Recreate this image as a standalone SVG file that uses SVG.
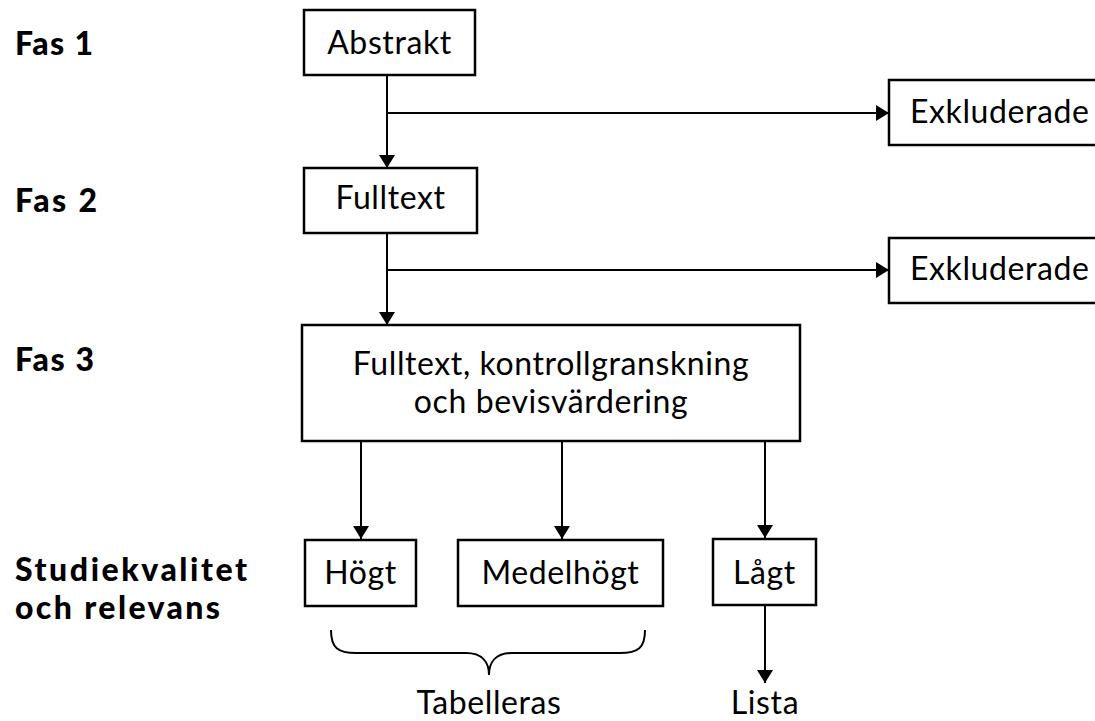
<svg xmlns="http://www.w3.org/2000/svg" width="1095" height="721" viewBox="0 0 1095 721">
<defs>
<marker id="ah" markerWidth="16" markerHeight="16" viewBox="0 0 16 16" refX="13" refY="8" orient="auto" markerUnits="userSpaceOnUse">
<path d="M0,0 L13,8 L0,16 Z" fill="#000"/>
</marker>
</defs>
<style>
.box{fill:#fff;stroke:#000;stroke-width:2.5}
.t{font-family:Lato,"Open Sans","Liberation Sans",sans-serif;font-size:32px;letter-spacing:0.6px;fill:#000;text-anchor:middle}
.lbl{font-family:Lato,"Open Sans","Liberation Sans",sans-serif;font-size:32px;font-weight:900;fill:#000}
.c{fill:none;stroke:#000;stroke-width:2}
</style>
<rect width="1095" height="721" fill="#fff"/>
<g id="labels">
<text class="lbl" x="15" y="55" textLength="78" lengthAdjust="spacing">Fas 1</text>
<text class="lbl" x="15" y="212" textLength="82" lengthAdjust="spacing">Fas 2</text>
<text class="lbl" x="15" y="371" textLength="79" lengthAdjust="spacing">Fas 3</text>
<text class="lbl" x="15" y="581" textLength="232" lengthAdjust="spacing">Studiekvalitet</text>
<text class="lbl" x="15" y="619" textLength="205" lengthAdjust="spacing">och relevans</text>
</g>
<g id="connectors">
<line class="c" x1="387" y1="75" x2="387" y2="168" marker-end="url(#ah)"/>
<line class="c" x1="387" y1="113" x2="889" y2="113" marker-end="url(#ah)"/>
<line class="c" x1="387" y1="233" x2="387" y2="325" marker-end="url(#ah)"/>
<line class="c" x1="387" y1="270" x2="889" y2="270" marker-end="url(#ah)"/>
<line class="c" x1="361" y1="441" x2="361" y2="539" marker-end="url(#ah)"/>
<line class="c" x1="562" y1="441" x2="562" y2="539" marker-end="url(#ah)"/>
<line class="c" x1="765" y1="441" x2="765" y2="538" marker-end="url(#ah)"/>
<line class="c" x1="765" y1="605" x2="765" y2="683" marker-end="url(#ah)"/>
<path class="c" d="M331,630 C331,648 338,653 356,653 L466,653 C482,653 489,662 489,675 C489,662 496,653 512,653 L620,653 C638,653 645,648 645,630"/>
</g>
<g id="abstrakt">
<rect class="box" x="304" y="10" width="171" height="65"/>
<text class="t" x="389.5" y="54">Abstrakt</text>
</g>
<g id="exkl1">
<rect class="box" x="889" y="80" width="215" height="65"/>
<text class="t" x="910" y="123" style="text-anchor:start">Exkluderade</text>
</g>
<g id="fulltext">
<rect class="box" x="304" y="168" width="173" height="65"/>
<text class="t" x="390.5" y="209">Fulltext</text>
</g>
<g id="exkl2">
<rect class="box" x="889" y="238" width="215" height="65"/>
<text class="t" x="910" y="280" style="text-anchor:start">Exkluderade</text>
</g>
<g id="fas3box">
<rect class="box" x="302" y="325" width="498" height="116"/>
<text class="t" x="551" y="375">Fulltext, kontrollgranskning</text>
<text class="t" x="551" y="413">och bevisvärdering</text>
</g>
<g id="hogt">
<rect class="box" x="305" y="540" width="111" height="66"/>
<text class="t" x="360.5" y="584">Högt</text>
</g>
<g id="medelhogt">
<rect class="box" x="458" y="540" width="205" height="66"/>
<text class="t" x="560.5" y="584">Medelhögt</text>
</g>
<g id="lagt">
<rect class="box" x="713" y="539" width="103" height="66"/>
<text class="t" x="764.5" y="584">Lågt</text>
</g>
<g id="tabelleras">
<text class="t" x="489" y="714">Tabelleras</text>
</g>
<g id="lista">
<text class="t" x="765" y="714">Lista</text>
</g>
</svg>
